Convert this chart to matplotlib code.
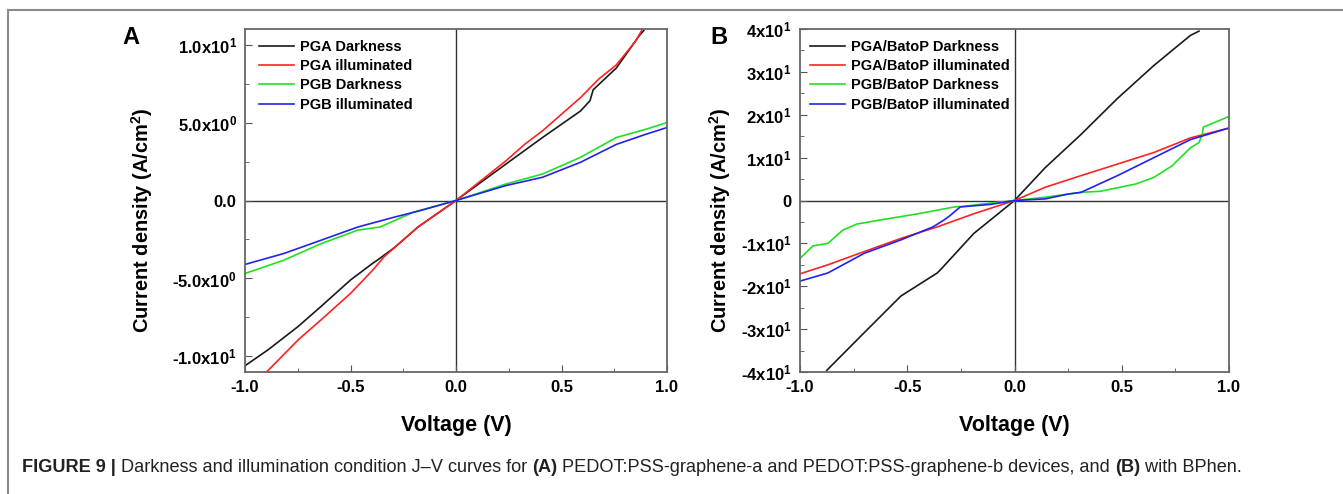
import matplotlib
matplotlib.use("Agg")
import matplotlib.pyplot as plt
from matplotlib.ticker import MultipleLocator, FixedLocator, FixedFormatter
from matplotlib.lines import Line2D

plt.rcParams["font.family"] = ["Liberation Sans", "DejaVu Sans"]
plt.rcParams["mathtext.fontset"] = "custom"
plt.rcParams["mathtext.rm"] = "Liberation Sans:bold"
plt.rcParams["mathtext.it"] = "Liberation Sans:bold"
plt.rcParams["mathtext.bf"] = "Liberation Sans:bold"
plt.rcParams["mathtext.default"] = "rm"

# ---- panel A: PEDOT:PSS-graphene-a / -b ----
pga_dark_v = [-1.0, -0.89, -0.75, -0.64, -0.5, -0.396, -0.37, -0.29, -0.18, 0.0,
              0.237, 0.41, 0.59, 0.635, 0.65, 0.76, 0.87, 0.89]
pga_dark_j = [-10.6, -9.57, -8.1, -6.8, -5.1, -4.04, -3.8, -3.0, -1.7, 0.0,
              2.34, 4.04, 5.74, 6.4, 7.1, 8.5, 10.6, 10.9]
pga_illu_v = [-0.895, -0.745, -0.64, -0.5, -0.395, -0.34, -0.18, 0.0,
              0.237, 0.325, 0.41, 0.59, 0.675, 0.76, 0.85, 0.88]
pga_illu_j = [-10.96, -8.9, -7.66, -5.96, -4.47, -3.6, -1.7, 0.0,
              2.55, 3.6, 4.47, 6.6, 7.77, 8.7, 10.2, 10.9]
pgb_dark_v = [-1.0, -0.816, -0.64, -0.465, -0.36, -0.2, 0.0,
              0.237, 0.41, 0.59, 0.76, 0.9, 1.0]
pgb_dark_j = [-4.68, -3.83, -2.77, -1.9, -1.7, -0.74, 0.0,
              1.06, 1.7, 2.77, 4.04, 4.57, 5.0]
pgb_illu_v = [-1.0, -0.816, -0.64, -0.465, -0.29, -0.167, 0.0,
              0.237, 0.41, 0.59, 0.76, 0.9, 1.0]
pgb_illu_j = [-4.1, -3.4, -2.55, -1.7, -1.06, -0.64, 0.0,
              0.96, 1.49, 2.45, 3.6, 4.25, 4.68]

# ---- panel B: with BatoP (BPhen) layer ----
pgab_dark_v = [-0.875, -0.70, -0.53, -0.36, -0.346, -0.19, 0.0,
               0.144, 0.31, 0.48, 0.65, 0.82, 0.86]
pgab_dark_j = [-39.6, -30.8, -22.3, -16.9, -16.2, -7.7, 0.0,
               7.7, 15.4, 23.8, 31.5, 38.5, 39.5]
pgab_illu_v = [-1.0, -0.87, -0.70, -0.53, -0.36, -0.19, 0.0,
               0.144, 0.31, 0.48, 0.65, 0.82, 1.0]
pgab_illu_j = [-17.1, -15.0, -11.9, -8.85, -6.15, -3.1, 0.0,
               3.1, 5.8, 8.5, 11.2, 14.6, 16.9]
pgbb_dark_v = [-1.0, -0.94, -0.87, -0.80, -0.735, -0.62, -0.45, -0.28, -0.245, -0.11, 0.0,
               0.144, 0.31, 0.40, 0.566, 0.65, 0.735, 0.82, 0.86, 0.875, 0.88, 1.0]
pgbb_dark_j = [-13.5, -10.6, -10.0, -6.9, -5.5, -4.5, -3.1, -1.5, -1.4, -0.6, 0.0,
               0.77, 1.9, 2.15, 3.85, 5.4, 8.1, 12.3, 13.5, 15.4, 17.1, 19.6]
pgbb_illu_v = [-1.0, -0.87, -0.70, -0.53, -0.38, -0.33, -0.30, -0.253, -0.11, 0.0,
               0.144, 0.25, 0.31, 0.48, 0.65, 0.82, 1.0]
pgbb_illu_j = [-18.8, -16.9, -12.3, -9.2, -6.15, -4.6, -3.5, -1.5, -0.9, 0.0,
               0.38, 1.5, 1.9, 5.8, 10.0, 14.2, 16.9]

colors = ["#1a1a1a", "#ff2222", "#22e022", "#2222ee"]

a_series = [(pga_dark_v, pga_dark_j, "PGA Darkness"),
            (pga_illu_v, pga_illu_j, "PGA illuminated"),
            (pgb_dark_v, pgb_dark_j, "PGB Darkness"),
            (pgb_illu_v, pgb_illu_j, "PGB illuminated")]
b_series = [(pgab_dark_v, pgab_dark_j, "PGA/BatoP Darkness"),
            (pgab_illu_v, pgab_illu_j, "PGA/BatoP illuminated"),
            (pgbb_dark_v, pgbb_dark_j, "PGB/BatoP Darkness"),
            (pgbb_illu_v, pgbb_illu_j, "PGB/BatoP illuminated")]

a_yticks = [-10, -5, 0, 5, 10]
a_ylabels = [r"-1.0x10$^{1}$", r"-5.0x10$^{0}$", "0.0", r"5.0x10$^{0}$", r"1.0x10$^{1}$"]
b_yticks = [-40, -30, -20, -10, 0, 10, 20, 30, 40]
b_ylabels = [r"-4x10$^{1}$", r"-3x10$^{1}$", r"-2x10$^{1}$", r"-1x10$^{1}$", "0",
             r"1x10$^{1}$", r"2x10$^{1}$", r"3x10$^{1}$", r"4x10$^{1}$"]
xticks = [-1.0, -0.5, 0.0, 0.5, 1.0]

W, H = 1343, 494
fig = plt.figure(figsize=(W / 100, H / 100), dpi=100)

def px_axes(x0, x1, y0, y1):
    return fig.add_axes([x0 / W, 1 - y1 / H, (x1 - x0) / W, (y1 - y0) / H])

ax_a = px_axes(245, 667, 29, 372)
ax_b = px_axes(800, 1229, 29, 372)


def setup(ax, series, yticks, ylabels, ylim, yminor, leg_x, ylab_x):
    for (v, j, lab), c in zip(series, colors):
        ax.plot(v, j, color=c, lw=1.2, label=lab)
    ax.axhline(0, color="#333333", lw=1.0, zorder=0)
    ax.axvline(0, color="#333333", lw=1.0, zorder=0)
    ax.set_xlim(-1, 1)
    ax.set_ylim(*ylim)
    ax.xaxis.set_major_locator(FixedLocator(xticks))
    ax.set_xticklabels([f"{t:.1f}" for t in xticks])
    ax.xaxis.set_minor_locator(MultipleLocator(0.25))
    ax.yaxis.set_major_locator(FixedLocator(yticks))
    ax.yaxis.set_major_formatter(FixedFormatter(ylabels))
    ax.yaxis.set_minor_locator(MultipleLocator(yminor))
    ax.tick_params(which="both", direction="in", top=False, right=False,
                   color="#555555")
    ax.tick_params(which="major", length=5, labelsize=12, pad=6)
    ax.tick_params(which="minor", length=3)
    for lab in ax.get_xticklabels() + ax.get_yticklabels():
        lab.set_fontweight("bold")
    for sp in ax.spines.values():
        sp.set_color("#666666")
        sp.set_linewidth(1.3)
    ax.set_xlabel("Voltage (V)", fontsize=15.5, fontweight="bold", labelpad=14)
    ax.set_ylabel(r"Current density (A/cm$^{2}$)", fontsize=14.4, fontweight="bold")
    ax.yaxis.set_label_coords(ylab_x, 0.443)
    leg = ax.legend(loc="upper left", frameon=False, fontsize=10.5,
                    handlelength=2.4, handletextpad=0.4, labelspacing=0.36,
                    borderaxespad=0.0, bbox_to_anchor=(leg_x, 0.985))
    for t in leg.get_texts():
        t.set_fontweight("bold")
    return ax


setup(ax_a, a_series, a_yticks, a_ylabels, (-11, 11), 2.5, 0.02, (155 - 245) / 422)
setup(ax_b, b_series, b_yticks, b_ylabels, (-40, 40), 5, 0.01, (733 - 800) / 429)

fig.text(122 / W, 1 - 38 / H, "A", fontsize=17, fontweight="bold", va="center")
fig.text(710 / W, 1 - 38 / H, "B", fontsize=17, fontweight="bold", va="center")

# open frame around the figure
fig.add_artist(Line2D([8 / W, 1.0], [1 - 10 / H, 1 - 10 / H], color="#8a8a8a", lw=1.5))
fig.add_artist(Line2D([8 / W, 8 / W], [1 - 10 / H, 0.0], color="#8a8a8a", lw=1.5))

# caption with mixed weights
pieces = [("FIGURE 9 | ", "bold"),
          ("Darkness and illumination condition J\u2013V curves for ", "normal"),
          ("(A)", "bold"),
          (" PEDOT:PSS-graphene-a and PEDOT:PSS-graphene-b devices, and ", "normal"),
          ("(B)", "bold"),
          (" with BPhen.", "normal")]
renderer = fig.canvas.get_renderer()
x = 22
for text, weight in pieces:
    t = fig.text(x / W, 1 - 467 / H, text, fontsize=13.1, fontweight=weight,
                 va="center", ha="left", color="#222222")
    bb = t.get_window_extent(renderer=renderer)
    x += bb.width

fig.savefig("out.png", dpi=100)
